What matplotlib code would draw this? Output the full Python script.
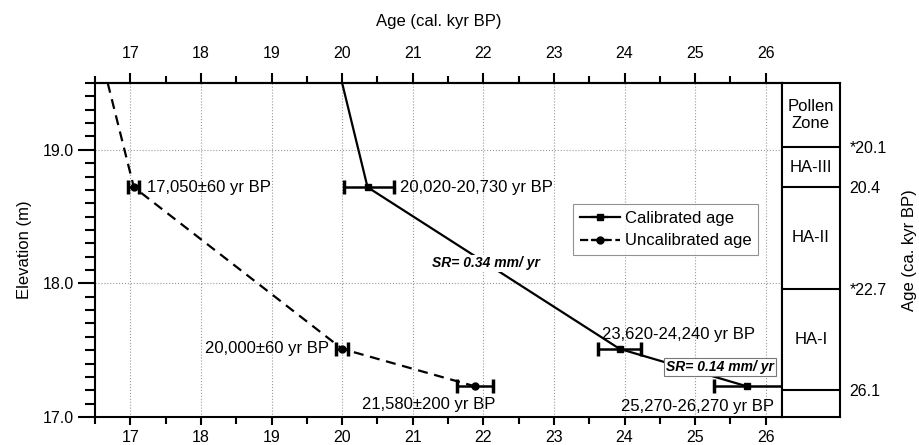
import matplotlib
matplotlib.use("Agg")
import matplotlib.pyplot as plt
from matplotlib.ticker import MultipleLocator, FixedLocator, FormatStrFormatter
import numpy as np

plt.rcParams['font.family'] = ['Liberation Sans', 'DejaVu Sans']

# ---- data ----
cal_line_age = [20.0, 20.36, 23.93, 25.73]
cal_line_elev = [19.5, 18.72, 17.51, 17.23]
cal_age = [20.36, 23.93, 25.73]
cal_lo = [20.02, 23.62, 25.27]
cal_hi = [20.73, 24.24, 26.27]
cal_elev = [18.72, 17.51, 17.23]

unc_line_age = [16.68, 17.05, 20.0, 21.88]
unc_line_elev = [19.5, 18.72, 17.51, 17.23]
unc_age = [17.05, 20.0, 21.88]
unc_err = [0.08, 0.08, 0.25]
unc_elev = [18.72, 17.51, 17.23]

cal_labels = ["20,020-20,730 yr BP", "23,620-24,240 yr BP", "25,270-26,270 yr BP"]
unc_labels = ["17,050\u00b160 yr BP", "20,000\u00b160 yr BP", "21,580\u00b1200 yr BP"]

zone_bounds = [19.02, 18.72, 17.96, 17.2]
zone_bound_labels = ["*20.1", "20.4", "*22.7", "26.1"]
zone_names = ["Pollen\nZone", "HA-III", "HA-II", "HA-I"]
zone_centers = [19.26, 18.87, 18.34, 17.58]

FS = 12
TFS = 11.5
LW = 1.5

fig = plt.figure(figsize=(9.19, 4.45), dpi=100)
L, R, B, T = 95/919, 782/919, 28/445, 362/445
ax = fig.add_axes([L, B, R - L, T - B])
axz = fig.add_axes([R, B, 58/919, T - B])

ax.set_xlim(16.5, 26.23)
ax.set_ylim(17.0, 19.5)

# lines
ax.plot(cal_line_age, cal_line_elev, color='black', lw=1.6, zorder=3)
ax.plot(unc_line_age, unc_line_elev, color='black', lw=1.6, ls=(0, (4.5, 3)), zorder=3)

cal_xerr = [np.array(cal_age) - np.array(cal_lo), np.array(cal_hi) - np.array(cal_age)]
ax.errorbar(cal_age, cal_elev, xerr=cal_xerr, fmt='s', color='black', ms=4.5,
            elinewidth=1.8, capsize=5, capthick=2.5, zorder=4, clip_on=False)
ax.errorbar(unc_age, unc_elev, xerr=unc_err, fmt='o', color='black', ms=5,
            elinewidth=1.8, capsize=5, capthick=2.5, zorder=4)

# legend handles
lh1 = ax.errorbar([], [], xerr=[], fmt='-s', color='black', ms=4.5, lw=1.6,
                  capsize=5, capthick=2.5)
lh2 = ax.errorbar([], [], xerr=[], fmt='--o', color='black', ms=5, lw=1.6,
                  capsize=5, capthick=2.5)
leg = ax.legend([lh1, lh2], ["Calibrated age", "Uncalibrated age"], loc='upper left',
                bbox_to_anchor=(0.696, 0.637), fontsize=FS, frameon=True,
                fancybox=False, edgecolor='#777777', handlelength=2.4,
                borderpad=0.4, labelspacing=0.45, handletextpad=0.3,
                borderaxespad=0)
leg.get_frame().set_linewidth(0.8)

# annotations
ax.text(17.24, 18.72, unc_labels[0], ha='left', va='center', fontsize=FS)
ax.text(19.82, 17.51, unc_labels[1], ha='right', va='center', fontsize=FS)
ax.text(21.22, 17.09, unc_labels[2], ha='center', va='center', fontsize=FS)
ax.text(20.82, 18.72, cal_labels[0], ha='left', va='center', fontsize=FS)
ax.text(24.77, 17.62, cal_labels[1], ha='center', va='center', fontsize=FS)
ax.text(25.03, 17.08, cal_labels[2], ha='center', va='center', fontsize=FS)

ax.text(22.04, 18.15, "SR= 0.34 mm/ yr", ha='center', va='center', fontsize=10,
        style='italic', weight='bold', zorder=5,
        bbox=dict(facecolor='white', edgecolor='none', pad=1))
ax.text(25.35, 17.375, "SR= 0.14 mm/ yr", ha='center', va='center', fontsize=10,
        style='italic', weight='bold', zorder=5,
        bbox=dict(facecolor='white', edgecolor='#777777', lw=0.8, pad=1.5))

# axes styling
ax.xaxis.set_major_locator(MultipleLocator(1))
ax.xaxis.set_minor_locator(MultipleLocator(0.5))
ax.yaxis.set_major_locator(MultipleLocator(1))
ax.yaxis.set_minor_locator(MultipleLocator(0.1))
ax.yaxis.set_major_formatter(FormatStrFormatter('%.1f'))
ax.tick_params(axis='x', which='both', top=False, bottom=True, labeltop=False,
               labelbottom=True, direction='out', labelsize=TFS, width=LW)
ax.tick_params(axis='x', which='major', length=6, pad=3)
ax.tick_params(axis='x', which='minor', length=5)
ax.tick_params(axis='y', which='both', left=True, right=False, direction='out',
               labelsize=TFS, width=LW)
ax.tick_params(axis='y', which='major', length=12, pad=3)
ax.tick_params(axis='y', which='minor', length=7)
ax.set_ylabel("Elevation (m)", fontsize=FS, labelpad=8)
ax.grid(True, which='major', color='#999999', ls=':', lw=0.8)
for s in ax.spines.values():
    s.set_linewidth(LW)

sec = ax.secondary_xaxis('top')
sec.xaxis.set_major_locator(MultipleLocator(1))
sec.xaxis.set_minor_locator(MultipleLocator(0.5))
sec.tick_params(axis='x', which='both', direction='out', labelsize=TFS, width=LW)
sec.tick_params(axis='x', which='major', length=7.5, pad=8)
sec.tick_params(axis='x', which='minor', length=5)
sec.set_xlabel("Age (cal. kyr BP)", fontsize=FS, labelpad=15)
sec.spines['top'].set_linewidth(LW)

# pollen zone panel
axz.set_xlim(0, 1)
axz.set_ylim(17.0, 19.5)
for yb in zone_bounds:
    axz.axhline(yb, color='black', lw=LW)
for name, yc in zip(zone_names, zone_centers):
    axz.text(0.5, yc, name, ha='center', va='center', fontsize=FS, linespacing=1.1)
axz.tick_params(axis='x', which='both', bottom=False, top=False, labelbottom=False)
axz.yaxis.tick_right()
axz.yaxis.set_major_locator(FixedLocator(zone_bounds))
axz.yaxis.set_minor_locator(FixedLocator([]))
axz.set_yticklabels(zone_bound_labels)
axz.tick_params(axis='y', which='both', left=False, right=True, length=0,
                labelleft=False, labelright=True, labelsize=TFS, pad=7)
axz.yaxis.set_label_position('right')
axz.set_ylabel("Age (ca. kyr BP)", fontsize=FS, labelpad=11)
for s in axz.spines.values():
    s.set_linewidth(LW)

fig.savefig("out.png", dpi=100)
